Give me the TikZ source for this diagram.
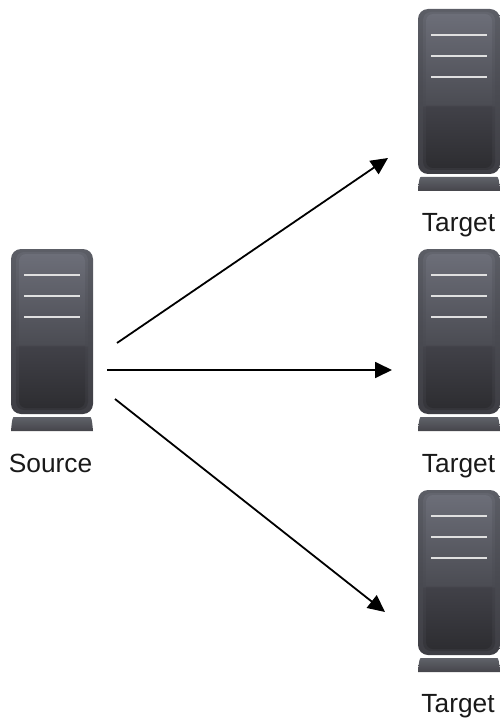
\documentclass[tikz,border=0pt]{standalone}
\usepackage{fontspec}
\setmainfont{Liberation Sans}
\usetikzlibrary{arrows.meta}
\definecolor{srvA}{HTML}{3E3E44}
\definecolor{srvB}{HTML}{4A4B52}
\definecolor{srvC}{HTML}{5C5E66}
\definecolor{inA}{HTML}{2D2D31}
\definecolor{inB}{HTML}{414148}
\definecolor{inC}{HTML}{4B4C53}
\definecolor{inD}{HTML}{6C6E78}
\definecolor{baseA}{HTML}{45454B}
\definecolor{baseB}{HTML}{606269}
\pgfdeclareverticalshading{srvouter}{100bp}{
  color(0bp)=(srvA); color(25bp)=(srvA); color(50bp)=(srvB); color(75bp)=(srvC); color(100bp)=(srvC)}
\pgfdeclareverticalshading{srvinner}{100bp}{
  color(0bp)=(inA); color(25bp)=(inA); color(45bp)=(inB); color(45.6bp)=(inC); color(75bp)=(inD); color(100bp)=(inD)}
\pgfdeclareverticalshading{srvbase}{100bp}{
  color(0bp)=(baseA); color(25bp)=(baseA); color(75bp)=(baseB); color(100bp)=(baseB)}
\tikzset{
  x=1pt,y=-1pt,
  srvslot/.style={draw=white!88!black,line width=1.8pt},
  srvlabel/.style={inner sep=0pt,anchor=base,font=\fontsize{26.3}{30}\selectfont,text=black!90},
  link/.style={draw=black,line width=1.8pt,-{Triangle[length=17pt,width=16pt]}},
  server/.pic={
    \shade[shading=srvouter,rounded corners=10pt] (0,0) rectangle (82,165);
    \shade[shading=srvinner,rounded corners=8pt,opacity=.5] (5,3) rectangle (77,161);
    \shade[shading=srvinner,rounded corners=7pt] (8,5) rectangle (74,159);
    \shade[shading=srvbase] (3,168) -- (79,168) .. controls (80,168) and (81,169) .. (82,182) -- (0,182) .. controls (1,169) and (2,168) .. (3,168) -- cycle;
    \draw[srvslot] (13,26) -- (69,26);
    \draw[srvslot] (13,47) -- (69,47);
    \draw[srvslot] (13,68) -- (69,68);
  }
}
\begin{document}
\begin{tikzpicture}
\useasboundingbox (0,0) rectangle (499,719);
\pic at (11,249) {server};
\pic at (418,9) {server};
\pic at (418,249) {server};
\pic at (418,490) {server};
\node[srvlabel] (source) at (50.5,472) {Source};
\node[srvlabel] (target1) at (458.5,231) {Target};
\node[srvlabel] (target2) at (458.5,472) {Target};
\node[srvlabel] (target3) at (458,712) {Target};
\coordinate (s1) at (117,343);
\coordinate (s2) at (107,370);
\coordinate (s3) at (115,399);
\coordinate (t1) at (388,158);
\coordinate (t2) at (392,370);
\coordinate (t3) at (385,612);
\draw[link] (s1) -- (t1);
\draw[link] (s2) -- (t2);
\draw[link] (s3) -- (t3);
\end{tikzpicture}
\end{document}
